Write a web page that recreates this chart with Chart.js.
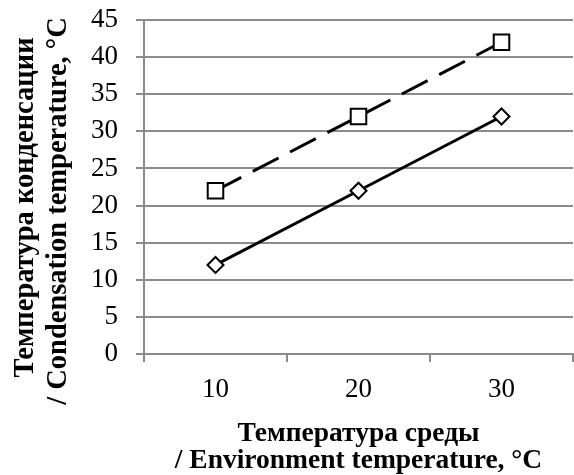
<!DOCTYPE html>
<html>
<head>
<meta charset="utf-8">
<script src="https://cdn.jsdelivr.net/npm/chart.js@4/dist/chart.umd.min.js"></script>
<style>
html,body{margin:0;padding:0;background:#fff;}
#wrap{width:574px;height:475px;}
</style>
</head>
<body>
<div id="wrap"><canvas id="c" width="574" height="475"></canvas></div>
<script>
const categories = ['10', '20', '30'];
const condensationDashed = [22, 32, 42];
const condensationSolid = [12, 22, 32];
const xTitle = ['Температура среды', '/ Environment temperature, °C'];
const yTitle = ['Температура конденсации', '/ Condensation temperature, °C'];

const FONT = "'Liberation Serif', 'Times New Roman', serif";

const yTitlePlugin = {
  id: 'yTitlePlugin',
  afterDraw(chart) {
    const ctx = chart.ctx;
    ctx.save();
    ctx.fillStyle = '#000';
    ctx.font = "bold 28.5px " + FONT;
    ctx.textAlign = 'center';
    ctx.textBaseline = 'alphabetic';
    const baselines = [33, 66];
    const centers = [207.5, 211];
    yTitle.forEach((line, i) => {
      ctx.save();
      ctx.translate(baselines[i], centers[i]);
      ctx.rotate(-Math.PI / 2);
      ctx.fillText(line, 0, 0);
      ctx.restore();
    });
    ctx.restore();
  }
};

new Chart(document.getElementById('c'), {
  type: 'line',
  data: {
    labels: categories,
    datasets: [
      {
        data: condensationDashed,
        borderColor: '#000',
        borderWidth: 3,
        borderDash: [29, 13],
        pointStyle: 'rect',
        pointRadius: 11,
        pointBorderWidth: 2,
        pointBackgroundColor: '#fff',
        pointBorderColor: '#000',
        tension: 0
      },
      {
        data: condensationSolid,
        borderColor: '#000',
        borderWidth: 3,
        pointStyle: 'rectRot',
        pointRadius: 8,
        pointBorderWidth: 2,
        pointBackgroundColor: '#fff',
        pointBorderColor: '#000',
        tension: 0
      }
    ]
  },
  plugins: [yTitlePlugin],
  options: {
    responsive: false,
    animation: false,
    devicePixelRatio: 1,
    layout: { autoPadding: false, padding: { top: 20, right: 1, left: 0, bottom: 0 } },
    plugins: { legend: { display: false }, tooltip: { enabled: false } },
    scales: {
      x: {
        type: 'category',
        offset: true,
        grid: { display: true, drawOnChartArea: false, drawTicks: true, offset: true, tickLength: 8, color: '#8c8c8c', lineWidth: 2 },
        border: { color: '#8c8c8c', width: 2 },
        ticks: { color: '#000', font: { family: FONT, size: 27 }, padding: 12 },
        title: { display: true, text: xTitle, color: '#000', font: { family: FONT, size: 27.5, weight: 'bold', lineHeight: 1.0 }, padding: { top: 2, bottom: 0 } },
        afterFit: (s) => { s.height = 121; s.paddingLeft = 0; s.paddingRight = 0; }
      },
      y: {
        min: 0, max: 45,
        ticks: { stepSize: 5, color: '#000', font: { family: FONT, size: 27 }, padding: 18 },
        grid: { color: '#8c8c8c', lineWidth: 2, tickLength: 8 },
        border: { color: '#8c8c8c', width: 2 },
        afterFit: (s) => { s.width = 144; s.paddingTop = 0; s.paddingBottom = 0; }
      }
    }
  }
});
</script>
</body>
</html>
